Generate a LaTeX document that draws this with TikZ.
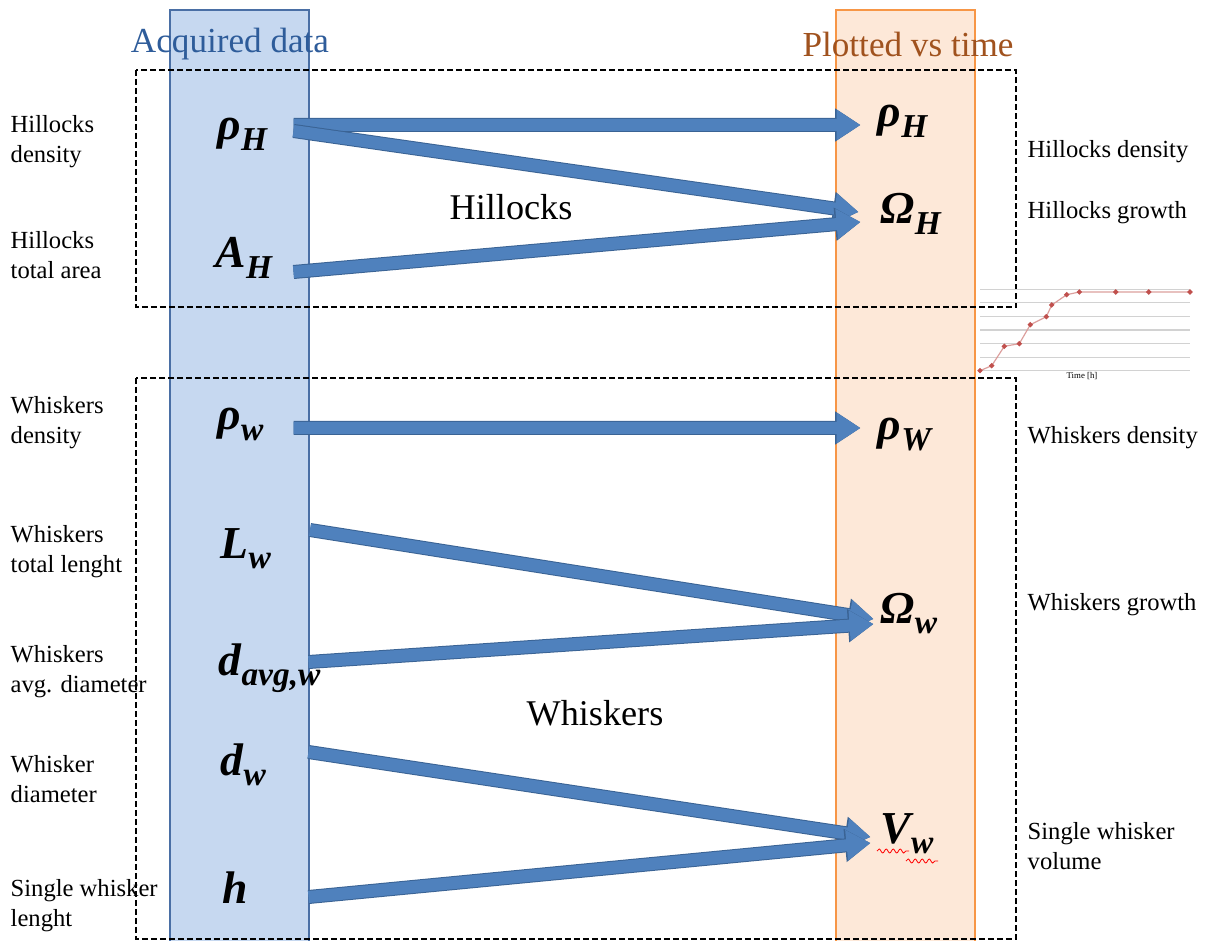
\documentclass[tikz,border=0pt]{standalone}
\usepackage{fontspec}
\setmainfont{Liberation Serif}
\usepackage{tikz}
\usetikzlibrary{positioning, arrows.meta, decorations.pathmorphing}
\definecolor{acqFill}{HTML}{C6D8F0}
\definecolor{acqEdge}{HTML}{4A6FA5}
\definecolor{acqText}{HTML}{2E5C9A}
\definecolor{plotFill}{HTML}{FDE8D8}
\definecolor{plotEdge}{HTML}{F79646}
\definecolor{plotText}{HTML}{A0521E}
\definecolor{flowFill}{HTML}{4F81BD}
\definecolor{flowEdge}{HTML}{3A6394}
\definecolor{curveRed}{HTML}{C0504D}

\newcommand{\qsym}[2]{#1\raisebox{-0.22em}{\fontsize{9.5}{9.5}\selectfont #2}}

\begin{document}
\begin{tikzpicture}[
  x=0.1mm, y=-0.1mm,
  every node/.style={inner sep=0pt},
  column/.style={
    rectangle, draw=#1Edge, fill=#1Fill, line width=0.2mm,
    minimum width=13.9mm, minimum height=93.5mm
  },
  header/.style={font=\fontsize{10}{12}\selectfont},
  group/.style={draw=black, line width=0.2mm, dash pattern=on 0.6mm off 0.3mm},
  flow/.style={
    draw=flowFill, line width=1.2mm,
    -{Triangle[length=2.4mm 0 0, width=2.9mm 0 0]},
    preaction={draw=flowEdge, line width=1.4mm,
      -{Triangle[length=2.55mm 0 0, width=3.15mm 0 0]}}
  },
  quantity/.style={
    font=\fontsize{13}{13}\selectfont\bfseries\itshape,
    anchor=base west, text height=2.6mm, text depth=1.2mm
  },
  lbl/.style={font=\fontsize{7}{8.5}\selectfont, align=left, anchor=west},
  grouplabel/.style={font=\fontsize{10.3}{12}\selectfont},
  gridline/.style={draw=gray!35, line width=0.12mm},
  spell/.style={draw=red, line width=0.08mm, decorate,
    decoration={snake, amplitude=0.2mm, segment length=0.7mm}},
]
\clip (0,0) rectangle (1212,941);

% === Columns ===
\node[column=acq] (colA) at (239.5,477.5) {};
\node[column=plot] (colB) at (905,477.5) {};

\node[header, text=acqText] (hdrA) at (230,44) {Acquired data};
\node[header, text=plotText] (hdrB) at (908,44) {Plotted vs time};

% === Groups ===
\draw[group] (136,70) rectangle (1016,307);
\draw[group] (136,378) rectangle (1016,939);

% === Acquired quantities ===
\node[quantity] (rhoHa) at (217,140) {\qsym{ρ}{H}};
\node[quantity] (AHa)   at (215,268) {\qsym{A}{H}};
\node[quantity] (rhoWa) at (217,430) {\qsym{ρ}{w}};
\node[quantity] (LWa)   at (220,558) {\qsym{L}{w}};
\node[quantity] (davg)  at (218,675) {\qsym{d}{avg,w}};
\node[quantity] (dWa)   at (220,775) {\qsym{d}{w}};
\node[quantity] (hA)    at (222,903) {h};

% === Plotted quantities ===
\node[quantity] (rhoHb) at (877,127) {\qsym{ρ}{H}};
\node[quantity] (OmHb)  at (880,224) {\qsym{Ω}{H}};
\node[quantity] (rhoWb) at (877,440) {\qsym{ρ}{W}};
\node[quantity] (OmWb)  at (880,623) {\qsym{Ω}{w}};
\node[quantity] (VWb)   at (880,843) {\qsym{V}{w}};
\draw[spell] (877,851) -- (909,851);
\draw[spell] (906,861) -- (938,861);

% === Flow arrows ===
\foreach \s/\sx/\sy/\t/\tx/\ty in {
    rhoHa/-1.65/0.8/rhoHb/2.6/-0.5,
    rhoHa/-1.65/0.2/OmHb/2.4/0.5,
    AHa/-1.65/-1.1/OmHb/2.6/-0.5,
    rhoWa/-1.65/-0.5/rhoWb/2.6/0.5,
    LWa/0/2.1/OmWb/3.9/-0.3,
    davg/-0.15/0.6/OmWb/3.9/-0.8,
    dWa/-0.15/1.6/VWb/3.6/-0.1,
    hA/-0.15/-0.1/VWb/3.6/-0.7} {
  \draw[flow] ([xshift=\sx mm, yshift=\sy mm]\s.center -| colA.east)
    -- ([xshift=\tx mm, yshift=\ty mm]\t.center -| colB.west);
}

\node[grouplabel] (hillocks) at (511,207) {Hillocks};
\node[grouplabel] (whiskers) at (595,713) {Whiskers};

% === Left labels ===
\node[lbl] (l1) at (10,142) {Hillocks\\density};
\node[lbl] (l2) at (10,255) {Hillocks\\total area};
\node[lbl] (l3) at (10,423) {Whiskers\\density};
\node[lbl] (l4) at (10,552) {Whiskers\\total lenght};
\node[lbl] (l5) at (10,672) {Whiskers\\avg. diameter};
\node[lbl] (l6) at (10,779) {Whisker\\diameter};
\node[lbl] (l7) at (10,906) {Single whisker\\lenght};

% === Right labels ===
\node[lbl] (r1) at (1027,152) {Hillocks density};
\node[lbl] (r2) at (1027,213) {Hillocks growth};
\node[lbl] (r3) at (1027,438) {Whiskers density};
\node[lbl] (r4) at (1027,605) {Whiskers growth};
\node[lbl] (r5) at (1027,846) {Single whisker\\volume};

% === Growth curve ===
\foreach \k in {0,...,6}
  \draw[gridline] (980,{289.3+13.57*\k}) -- (1190,{289.3+13.57*\k});
\draw[curveRed!55, line width=0.12mm, mark=*, mark size=0.55pt,
  mark options={fill=curveRed, draw=curveRed}]
  plot coordinates {(980,370.7) (991.7,365.7) (1004.3,346.3) (1019.3,343.7)
    (1030.3,324.7) (1046.3,316.7) (1051.7,305) (1066.7,294.7) (1079.3,292)
    (1115.7,292) (1148.7,292) (1190,292)};
\node[font=\fontsize{2.5}{3}\selectfont] (taxis) at (1082,376) {Time [h]};

\end{tikzpicture}
\end{document}
